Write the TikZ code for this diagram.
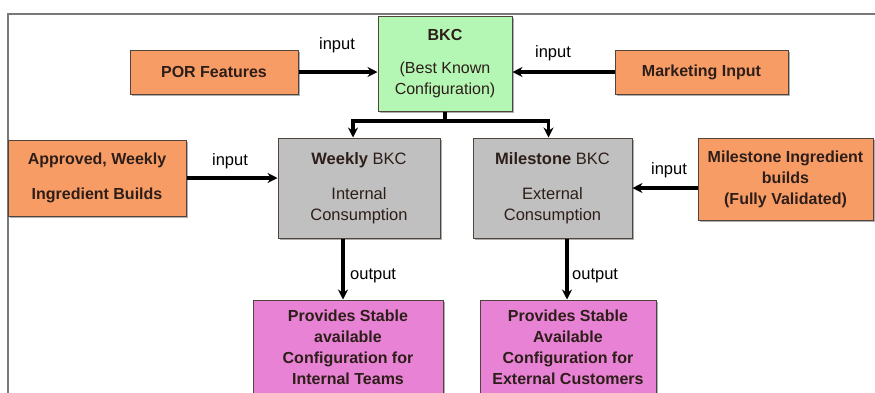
\documentclass[tikz,border=0pt]{standalone}
\usepackage{fontspec}
\setmainfont{Liberation Sans}
\usetikzlibrary{arrows.meta,shadows}
\definecolor{orangebox}{RGB}{248,156,102}
\definecolor{greenbox}{RGB}{180,246,180}
\definecolor{graybox}{RGB}{192,192,192}
\definecolor{pinkbox}{RGB}{232,130,212}
\definecolor{boxedge}{RGB}{80,68,60}
\definecolor{boxtext}{RGB}{45,30,25}
\definecolor{framegray}{RGB}{120,120,120}
\tikzset{
  box/.style={draw=boxedge, line width=1pt, inner sep=0pt, align=center,
    text=boxtext, font=\fontsize{16}{21}\selectfont,
    drop shadow={shadow xshift=2pt, shadow yshift=-2pt, opacity=0.45, fill=black!70}},
  srcbox/.style={box, fill=orangebox, font=\fontsize{16}{21}\selectfont\bfseries},
  bkcbox/.style={box, fill=greenbox},
  stagebox/.style={box, fill=graybox, font=\fontsize{16.5}{21}\selectfont},
  outbox/.style={box, fill=pinkbox, font=\fontsize{16}{21}\selectfont\bfseries},
  arr/.style={line width=3.2pt, -{Stealth[length=10pt,width=10pt]}},
  link/.style={line width=3.2pt},
  lbl/.style={font=\fontsize{16.5}{18}\selectfont, text=black, inner sep=0pt},
}
\begin{document}
\begin{tikzpicture}[x=1pt,y=-1pt]
\useasboundingbox (0,0) rectangle (875,392);
\fill[white] (0,0) rectangle (875,392);
% outer frame, running off the right and bottom edges
\draw[framegray, line width=2.4pt] (8,400) -- (8,14) -- (890,14);

% top row
\node[bkcbox, minimum width=134pt, minimum height=95pt] (bkc) at (445,63.5)
  {\textbf{BKC}\\[12pt](Best Known\\Configuration)};
\node[srcbox, minimum width=168pt, minimum height=44pt] (por) at (214,72) {POR Features};
\node[srcbox, minimum width=173pt, minimum height=44pt] (mkt) at (701.5,72) {Marketing Input};

% middle row
\node[stagebox, minimum width=162pt, minimum height=100pt] (weekly) at (359,188)
  {\textbf{Weekly} BKC\\[14pt]Internal\\Consumption};
\node[stagebox, minimum width=159pt, minimum height=100pt] (mile) at (552.5,188)
  {\textbf{Milestone} BKC\\[14pt]External\\Consumption};
\node[srcbox, minimum width=178pt, minimum height=76pt] (appr) at (97,178)
  {Approved, Weekly\\[14pt]Ingredient Builds};
\node[srcbox, minimum width=175pt, minimum height=82pt] (msin) at (785.5,179)
  {Milestone Ingredient\\builds\\(Fully Validated)};

% bottom row
\node[outbox, minimum width=190pt, minimum height=94pt] (provA) at (348,347)
  {Provides Stable\\available\\Configuration for\\Internal Teams};
\node[outbox, minimum width=176pt, minimum height=94pt] (provB) at (568,347)
  {Provides Stable\\Available\\Configuration for\\External Customers};

% inputs into BKC
\draw[arr] (por) -- (bkc.west |- por);
\draw[arr] (mkt) -- (bkc.east |- mkt);
\node[lbl] (inL) at (337,45) {input};
\node[lbl] (inR) at (553,53) {input};

% BKC splits into the two streams
\coordinate (split) at (bkc.south |- 0,121);
\draw[link] (bkc.south) -- (split);
\draw[arr] (split) -| ([xshift=-6pt]weekly.north);
\draw[arr] (split) -| ([xshift=-4pt]mile.north);

% ingredient inputs
\draw[arr] (appr.east) -- (appr.east -| weekly.west);
\node[lbl] (inW) at (230,161) {input};
\draw[arr] (msin.west |- mile.east) -- (mile.east);
\node[lbl] (inM) at (669,170) {input};

% outputs
\draw[arr] ([xshift=-16pt]weekly.south) -- ([xshift=-5pt]provA.north);
\node[lbl, anchor=west] (outA) at (350,276) {output};
\draw[arr] ([xshift=14.5pt]mile.south) -- ([xshift=-1pt]provB.north);
\node[lbl, anchor=west] (outB) at (572,276) {output};
\end{tikzpicture}
\end{document}
